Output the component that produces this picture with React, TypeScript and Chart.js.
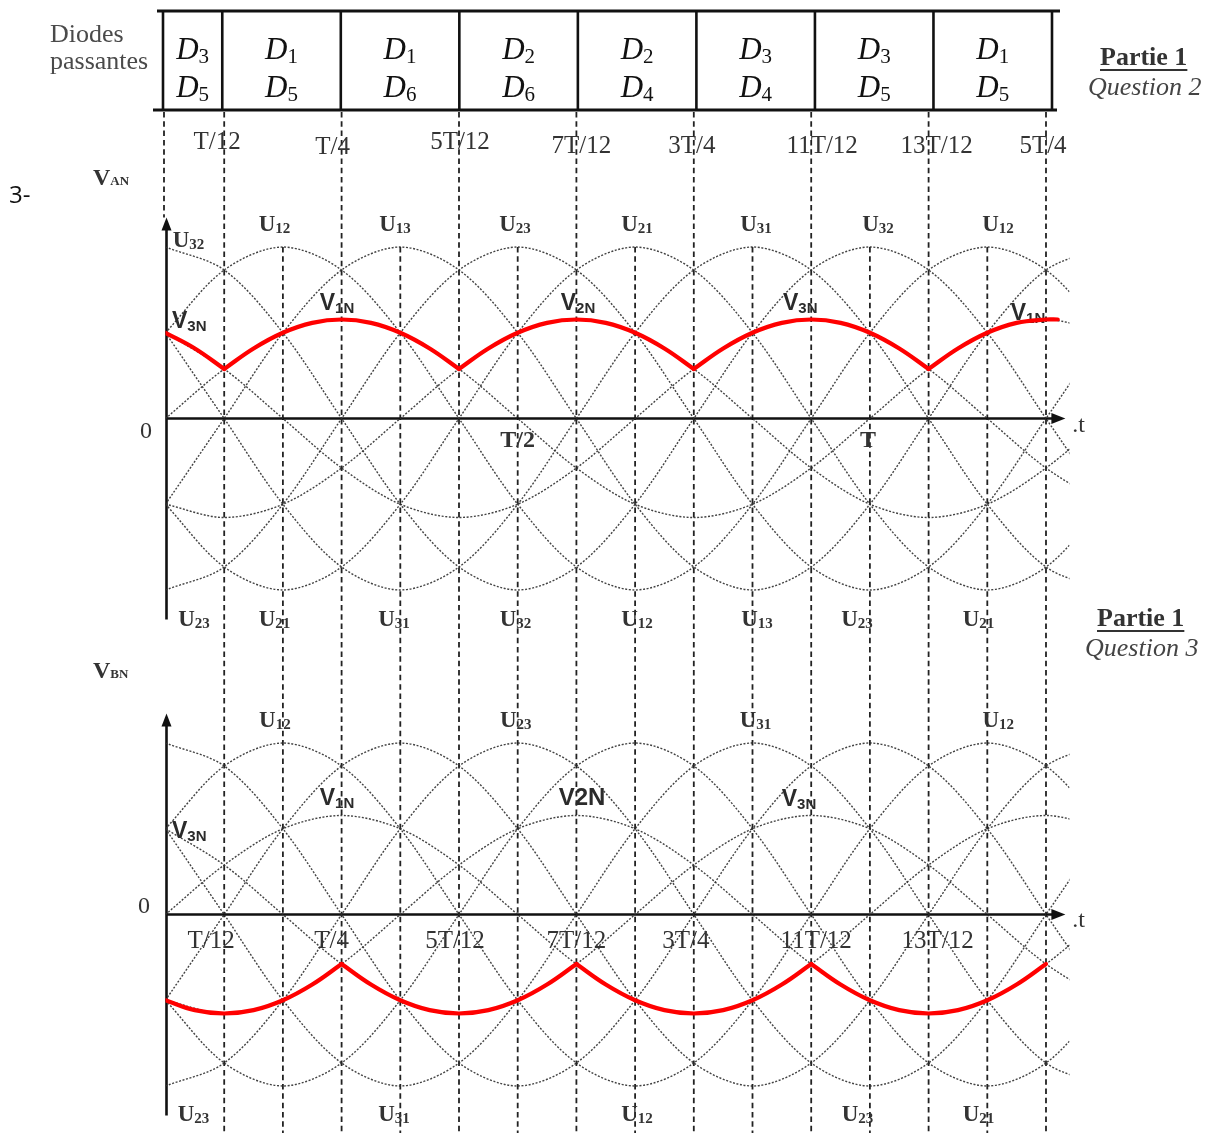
import React, { useEffect, useRef } from 'react';
import { Chart, registerables } from 'chart.js';

Chart.register(...registerables);

// ---------------- DATA (time in units of T/12, voltage in % of phase peak) ----------------
const steps = [0, 1, 2, 3, 4, 5, 6, 7, 8, 9, 10, 11, 12, 13, 14, 15, 16];
const v1n = [0, 50, 86.6, 100, 86.6, 50, 0, -50, -86.6, -100, -86.6, -50, 0, 50, 86.6, 100, 86.6];
const v2n = [-86.6, -100, -86.6, -50, 0, 50, 86.6, 100, 86.6, 50, 0, -50, -86.6, -100, -86.6, -50, 0];
const v3n = [86.6, 50, 0, -50, -86.6, -100, -86.6, -50, 0, 50, 86.6, 100, 86.6, 50, 0, -50, -86.6];
const u12 = [86.6, 150, 173.2, 150, 86.6, 0, -86.6, -150, -173.2, -150, -86.6, 0, 86.6, 150, 173.2, 150, 86.6];
const u13 = [-86.6, 0, 86.6, 150, 173.2, 150, 86.6, 0, -86.6, -150, -173.2, -150, -86.6, 0, 86.6, 150, 173.2];
const u23 = [-173.2, -150, -86.6, 0, 86.6, 150, 173.2, 150, 86.6, 0, -86.6, -150, -173.2, -150, -86.6, 0, 86.6];
const u21 = [-86.6, -150, -173.2, -150, -86.6, 0, 86.6, 150, 173.2, 150, 86.6, 0, -86.6, -150, -173.2, -150, -86.6];
const u31 = [86.6, 0, -86.6, -150, -173.2, -150, -86.6, 0, 86.6, 150, 173.2, 150, 86.6, 0, -86.6, -150, -173.2];
const u32 = [173.2, 150, 86.6, 0, -86.6, -150, -173.2, -150, -86.6, 0, 86.6, 150, 173.2, 150, 86.6, 0, -86.6];

const vanTimes = [0, 0.5, 1, 1.5, 2, 2.5, 3, 3.5, 4, 4.5, 5, 5.5, 6, 6.5, 7, 7.5, 8, 8.5, 9, 9.5, 10, 10.5, 11, 11.5, 12, 12.5, 13, 13.5, 14, 14.5, 15, 15.2];
const vanValues = [86.6, 70.7, 50, 70.7, 86.6, 96.6, 100, 96.6, 86.6, 70.7, 50, 70.7, 86.6, 96.6, 100, 96.6, 86.6, 70.7, 50, 70.7, 86.6, 96.6, 100, 96.6, 86.6, 70.7, 50, 70.7, 86.6, 96.6, 100, 100];
const vanCorners = [1, 5, 9, 13];
const vbnTimes = [0, 0.5, 1, 1.5, 2, 2.5, 3, 3.5, 4, 4.5, 5, 5.5, 6, 6.5, 7, 7.5, 8, 8.5, 9, 9.5, 10, 10.5, 11, 11.5, 12, 12.5, 13, 13.5, 14, 14.5, 15];
const vbnValues = [-86.6, -96.6, -100, -96.6, -86.6, -70.7, -50, -70.7, -86.6, -96.6, -100, -96.6, -86.6, -70.7, -50, -70.7, -86.6, -96.6, -100, -96.6, -86.6, -70.7, -50, -70.7, -86.6, -96.6, -100, -96.6, -86.6, -70.7, -50];
const vbnCorners = [3, 7, 11];

const gridSteps = [0, 1, 2, 3, 4, 5, 6, 7, 8, 9, 10, 11, 12, 13, 14, 15];
const timeLabelSteps = [1, 3, 5, 7, 9, 11, 13, 15];
const timeLabelsTop = ['T/12', 'T/4', '5T/12', '7T/12', '3T/4', '11T/12', '13T/12', '5T/4'];
const timeLabelsBottom = ['T/12', 'T/4', '5T/12', '7T/12', '3T/4', '11T/12', '13T/12'];
const tableSteps = [0, 1, 3, 5, 7, 9, 11, 13, 15];
const diodesUpper = ['3', '1', '1', '2', '2', '3', '3', '1'];
const diodesLower = ['5', '5', '6', '6', '4', '4', '5', '5'];
const vanPeakSteps = [0, 2, 4, 6, 8, 10, 12, 14];
const vanPeakLabels = ['32', '12', '13', '23', '21', '31', '32', '12'];
const vanTroughSteps = [0, 2, 4, 6, 8, 10, 12, 14];
const vanTroughLabels = ['23', '21', '31', '32', '12', '13', '23', '21'];
const vbnPeakSteps = [2, 6, 10, 14];
const vbnPeakLabels = ['12', '23', '31', '12'];
const vbnTroughSteps = [0, 4, 8, 12, 14];
const vbnTroughLabels = ['23', '31', '12', '23', '21'];
const vanPhaseSteps = [0, 3, 7, 11, 15];
const vanPhaseLabels = ['3N', '1N', '2N', '3N', '1N'];
const vbnPhaseSteps = [0, 3, 7, 11];
const vbnPhaseLabels = ['3N', '1N', '', '3N'];

// ---------------- LAYOUT ----------------
const W = 1208;
const H = 1133;
const X0 = 165.5;
const XSTEP = 58.7;
const XMAX = 15.4;
const ZA = 418.5;
const ZB = 914.5;
const PPU = 0.99;

const L = {
  tableTop: 11, tableBottom: 110, tableLeft: 163, tableRight: 1052,
  topTimeDx: [-7, -9, 1, 5, -2, 11, 8, -3],
  topTimeDy: [-2, 3, -2, 2, 2, 2, 2, 2],
  topTimeBase: 151,
  botTimeDx: [-13, -10, -4, 0, -8, 5, 9],
  vanPeakDx: [23, -8.4, -5.3, -2.7, 1.9, 3.5, 8.1, 10.7],
  vanTroughDx: [28.5, -8.4, -6.3, -2.2, 1.9, 4.5, -12.9, -8.8],
  vbnPeakDx: [-8, -2, 3, 11],
  vbnTroughDx: [28, -6.3, 1.9, -12.4, -8.8],
  vanPhaseDx: [0, -4.6, 1.6, -11, -18],
  vanPhaseDy: [-90.5, -108.5, -108.5, -108.5, -98.5],
  vbnPhaseDx: [0, -4.6, 5.6, -12.2],
  vbnPhaseDy: [-76.5, -109.5, -109.5, -108.5],
};

const SERIF = '"Liberation Serif", "Times New Roman", serif';
const SANS = '"Liberation Sans", Arial, sans-serif';

function subText(ctx: CanvasRenderingContext2D, x: number, y: number, main: string, sub: string,
  mainFont: string, subFont: string, subDy: number, align: 'left' | 'center') {
  ctx.font = mainFont;
  const wm = ctx.measureText(main).width;
  ctx.font = subFont;
  const ws = sub ? ctx.measureText(sub).width : 0;
  const x0 = align === 'center' ? x - (wm + ws) / 2 : x;
  ctx.textAlign = 'left';
  ctx.textBaseline = 'alphabetic';
  ctx.font = mainFont;
  ctx.fillText(main, x0, y);
  if (sub) {
    ctx.font = subFont;
    ctx.fillText(sub, x0 + wm, y + subDy);
  }
}

function plainText(ctx: CanvasRenderingContext2D, x: number, y: number, s: string, font: string, align: CanvasTextAlign, color: string) {
  ctx.font = font;
  ctx.fillStyle = color;
  ctx.textAlign = align;
  ctx.textBaseline = 'alphabetic';
  ctx.fillText(s, x, y);
}

const diagramPlugin = {
  id: 'diagram',
  beforeDatasetsDraw(chart: any) {
    const ctx: CanvasRenderingContext2D = chart.ctx;
    const xs = chart.scales.x;
    const ya = chart.scales.yA;
    const yb = chart.scales.yB;
    const px = (k: number) => xs.getPixelForValue(k);
    ctx.save();

    // ---- table of conducting diodes ----
    const p0 = px(0), p15 = px(15);
    const tx = (k: number) => L.tableLeft + (px(k) - p0) * (L.tableRight - L.tableLeft) / (p15 - p0);
    ctx.strokeStyle = '#111';
    ctx.setLineDash([]);
    ctx.lineWidth = 3;
    ctx.beginPath();
    ctx.moveTo(L.tableLeft - 6, L.tableTop); ctx.lineTo(L.tableRight + 8, L.tableTop);
    ctx.moveTo(L.tableLeft - 10, L.tableBottom); ctx.lineTo(L.tableRight + 5, L.tableBottom);
    ctx.stroke();
    ctx.lineWidth = 2.6;
    ctx.beginPath();
    tableSteps.forEach((k) => {
      const x = tx(k);
      ctx.moveTo(x, L.tableTop); ctx.lineTo(x, L.tableBottom);
    });
    ctx.stroke();
    ctx.fillStyle = '#111';
    for (let i = 0; i < diodesUpper.length; i++) {
      const cx = (tx(tableSteps[i]) + tx(tableSteps[i + 1])) / 2;
      subText(ctx, cx, 59, 'D', diodesUpper[i], `italic 31px ${SERIF}`, `21px ${SERIF}`, 4, 'center');
      subText(ctx, cx, 97, 'D', diodesLower[i], `italic 31px ${SERIF}`, `21px ${SERIF}`, 4, 'center');
    }

    // ---- vertical dashed time lines ----
    ctx.strokeStyle = '#222';
    ctx.lineWidth = 1.8;
    ctx.setLineDash([5.5, 3.8]);
    gridSteps.forEach((k) => {
      const x = px(k);
      ctx.beginPath();
      if (k === 0) {
        ctx.moveTo(x - 1.5, L.tableBottom + 2);
        ctx.lineTo(x - 1.5, ya.getPixelForValue(203));
      } else if (k % 2 === 1) {
        ctx.moveTo(x, L.tableBottom + 2);
        ctx.lineTo(x, H);
      } else {
        ctx.moveTo(x, ya.getPixelForValue(173.2));
        ctx.lineTo(x, H);
      }
      ctx.stroke();
    });
    ctx.setLineDash([]);

    // ---- axes with arrows ----
    const drawAxes = (ys: any) => {
      const ax = px(0) + 1;
      const zy = ys.getPixelForValue(0);
      const top = ys.getPixelForValue(203);
      const bot = ys.getPixelForValue(-203);
      const xr = px(15.33);
      ctx.strokeStyle = '#111';
      ctx.fillStyle = '#111';
      ctx.lineWidth = 2.6;
      ctx.beginPath();
      ctx.moveTo(ax, top + 10); ctx.lineTo(ax, bot);
      ctx.moveTo(ax, zy); ctx.lineTo(xr - 10, zy);
      ctx.stroke();
      ctx.beginPath();
      ctx.moveTo(ax, top); ctx.lineTo(ax - 5, top + 13); ctx.lineTo(ax + 5, top + 13); ctx.closePath();
      ctx.fill();
      ctx.beginPath();
      ctx.moveTo(xr, zy); ctx.lineTo(xr - 14, zy - 5.5); ctx.lineTo(xr - 14, zy + 5.5); ctx.closePath();
      ctx.fill();
    };
    drawAxes(ya);
    drawAxes(yb);

    // label partially hidden under the red curve (right end of VAN)
    ctx.fillStyle = '#2b2b2b';
    const lastI = vanPhaseSteps.length - 1;
    subText(ctx, px(vanPhaseSteps[lastI]) + L.vanPhaseDx[lastI], ya.getPixelForValue(0) + L.vanPhaseDy[lastI],
      'V', vanPhaseLabels[lastI], `bold 23px ${SANS}`, `bold 15px ${SANS}`, 3, 'center');
    ctx.restore();
  },

  afterDatasetsDraw(chart: any) {
    const ctx: CanvasRenderingContext2D = chart.ctx;
    const xs = chart.scales.x;
    const ya = chart.scales.yA;
    const yb = chart.scales.yB;
    const px = (k: number) => xs.getPixelForValue(k);
    const zA = ya.getPixelForValue(0);
    const zB = yb.getPixelForValue(0);
    ctx.save();

    // left / right annotations
    plainText(ctx, 50, 42, 'Diodes', `26px ${SERIF}`, 'left', '#4a4a4a');
    plainText(ctx, 50, 69, 'passantes', `26px ${SERIF}`, 'left', '#4a4a4a');
    const partie = (x: number, y: number, q: string) => {
      plainText(ctx, x, y, 'Partie 1', `bold 26px ${SERIF}`, 'left', '#333');
      ctx.font = `bold 26px ${SERIF}`;
      const w = ctx.measureText('Partie 1').width;
      ctx.fillRect(x, y + 4, w, 2);
      plainText(ctx, x - 12, y + 30, q, `italic 26px ${SERIF}`, 'left', '#444');
    };
    partie(1100, 65, 'Question 2');
    partie(1097, 626, 'Question 3');
    plainText(ctx, 9, 203, '3-', `24px "Open Sans", sans-serif`, 'left', '#111');

    ctx.fillStyle = '#333';
    subText(ctx, 93, 185, 'V', 'AN', `bold 24px ${SERIF}`, `bold 13px ${SERIF}`, 0, 'left');
    subText(ctx, 93, 678, 'V', 'BN', `bold 24px ${SERIF}`, `bold 13px ${SERIF}`, 0, 'left');

    // zero marks and .t
    plainText(ctx, 152, zA + 19.5, '0', `24px ${SERIF}`, 'right', '#333');
    plainText(ctx, 150, zB - 1.5, '0', `24px ${SERIF}`, 'right', '#333');
    plainText(ctx, px(15.33) + 7, zA + 13.5, '.t', `24px ${SERIF}`, 'left', '#333');
    plainText(ctx, px(15.33) + 7, zB + 12.5, '.t', `24px ${SERIF}`, 'left', '#333');
    plainText(ctx, px(6), zA + 28.5, 'T/2', `bold 24px ${SERIF}`, 'center', '#333');
    plainText(ctx, px(12) - 2, zA + 28.5, 'T', `bold 24px ${SERIF}`, 'center', '#333');

    // time labels
    timeLabelsTop.forEach((s, i) => {
      plainText(ctx, px(timeLabelSteps[i]) + L.topTimeDx[i], L.topTimeBase + L.topTimeDy[i], s, `25px ${SERIF}`, 'center', '#333');
    });
    timeLabelsBottom.forEach((s, i) => {
      plainText(ctx, px(timeLabelSteps[i]) + L.botTimeDx[i], zB + 33.5, s, `25px ${SERIF}`, 'center', '#333');
    });

    // line-voltage labels
    ctx.fillStyle = '#333';
    const uMain = `bold 23px ${SERIF}`;
    const uSub = `bold 15px ${SERIF}`;
    vanPeakSteps.forEach((k, i) => {
      const y = ya.getPixelForValue(173.2) + (k === 0 ? 0 : -16);
      subText(ctx, px(k) + L.vanPeakDx[i], y, 'U', vanPeakLabels[i], uMain, uSub, 2, 'center');
    });
    vanTroughSteps.forEach((k, i) => {
      subText(ctx, px(k) + L.vanTroughDx[i], ya.getPixelForValue(-173.2) + 36, 'U', vanTroughLabels[i], uMain, uSub, 2, 'center');
    });
    vbnPeakSteps.forEach((k, i) => {
      subText(ctx, px(k) + L.vbnPeakDx[i], yb.getPixelForValue(173.2) - 16, 'U', vbnPeakLabels[i], uMain, uSub, 2, 'center');
    });
    vbnTroughSteps.forEach((k, i) => {
      subText(ctx, px(k) + L.vbnTroughDx[i], yb.getPixelForValue(-173.2) + 35, 'U', vbnTroughLabels[i], uMain, uSub, 2, 'center');
    });

    // phase-voltage labels
    ctx.fillStyle = '#2b2b2b';
    const vMain = `bold 23px ${SANS}`;
    const vSub = `bold 15px ${SANS}`;
    vanPhaseSteps.forEach((k, i) => {
      if (i === vanPhaseSteps.length - 1) return;
      if (k === 0) subText(ctx, px(0) + 6.5, zA + L.vanPhaseDy[i], 'V', vanPhaseLabels[i], vMain, vSub, 3, 'left');
      else subText(ctx, px(k) + L.vanPhaseDx[i], zA + L.vanPhaseDy[i], 'V', vanPhaseLabels[i], vMain, vSub, 3, 'center');
    });
    vbnPhaseSteps.forEach((k, i) => {
      if (k === 0) subText(ctx, px(0) + 6.5, zB + L.vbnPhaseDy[i], 'V', vbnPhaseLabels[i], vMain, vSub, 3, 'left');
      else if (vbnPhaseLabels[i] === '') plainText(ctx, px(k) + L.vbnPhaseDx[i], zB + L.vbnPhaseDy[i], 'V2N', `bold 24px ${SANS}`, 'center', '#2b2b2b');
      else subText(ctx, px(k) + L.vbnPhaseDx[i], zB + L.vbnPhaseDy[i], 'V', vbnPhaseLabels[i], vMain, vSub, 3, 'center');
    });
    ctx.restore();
  },
};

const toPoints = (times: number[], vals: number[]) => times.map((t, i) => ({ x: t, y: vals[i] }));

// split a rectified curve into smooth arcs at its corner instants (diode commutations)
function splitArcs(times: number[], vals: number[], corners: number[]) {
  const arcs: { x: number; y: number }[][] = [];
  let cur: { x: number; y: number }[] = [];
  times.forEach((t, i) => {
    cur.push({ x: t, y: vals[i] });
    if (corners.includes(t)) {
      arcs.push(cur);
      cur = [{ x: t, y: vals[i] }];
    }
  });
  if (cur.length > 1) arcs.push(cur);
  return arcs;
}

function buildConfig(): any {
  const grays = [v1n, v2n, v3n, u12, u13, u23, u21, u31, u32];
  const grayStyle = {
    borderColor: 'rgba(45,45,45,0.9)',
    borderWidth: 1.4,
    borderDash: [2, 1.6],
    tension: 0.32,
    pointRadius: 0,
    fill: false,
    order: 2,
    xAxisID: 'x',
  };
  const datasets: any[] = [];
  ['yA', 'yB'].forEach((axis) => {
    grays.forEach((s) => datasets.push({ ...grayStyle, yAxisID: axis, data: toPoints(steps, s) }));
  });
  const redStyle = {
    borderColor: '#ff0000', borderWidth: 4.2, tension: 0.4, pointRadius: 0, fill: false, order: 0,
    xAxisID: 'x', borderJoinStyle: 'round', borderCapStyle: 'round',
  };
  splitArcs(vanTimes, vanValues, vanCorners).forEach((arc) =>
    datasets.push({ ...redStyle, yAxisID: 'yA', data: arc }));
  splitArcs(vbnTimes, vbnValues, vbnCorners).forEach((arc) =>
    datasets.push({ ...redStyle, yAxisID: 'yB', data: arc }));

  return {
    type: 'line',
    data: { datasets },
    options: {
      animation: false,
      responsive: false,
      events: [],
      layout: { padding: { left: X0, right: W - (X0 + XMAX * XSTEP), top: 0, bottom: 0 } },
      plugins: { legend: { display: false }, tooltip: { enabled: false }, title: { display: false } },
      scales: {
        x: { type: 'linear', min: 0, max: XMAX, display: false, bounds: 'data' },
        yA: { type: 'linear', min: -(H - ZA) / PPU, max: ZA / PPU, display: false, bounds: 'data' },
        yB: { type: 'linear', min: -(H - ZB) / PPU, max: ZB / PPU, display: false, bounds: 'data' },
      },
    },
    plugins: [diagramPlugin],
  };
}

export default function App() {
  const ref = useRef<HTMLCanvasElement | null>(null);
  useEffect(() => {
    if (!ref.current) return;
    const chart = new Chart(ref.current, buildConfig());
    return () => chart.destroy();
  }, []);
  return (
    <div style={{ position: 'fixed', left: 0, top: 0, width: W, height: H, background: '#fff' }}>
      <canvas ref={ref} width={W} height={H} style={{ display: 'block', width: W, height: H }} />
    </div>
  );
}
